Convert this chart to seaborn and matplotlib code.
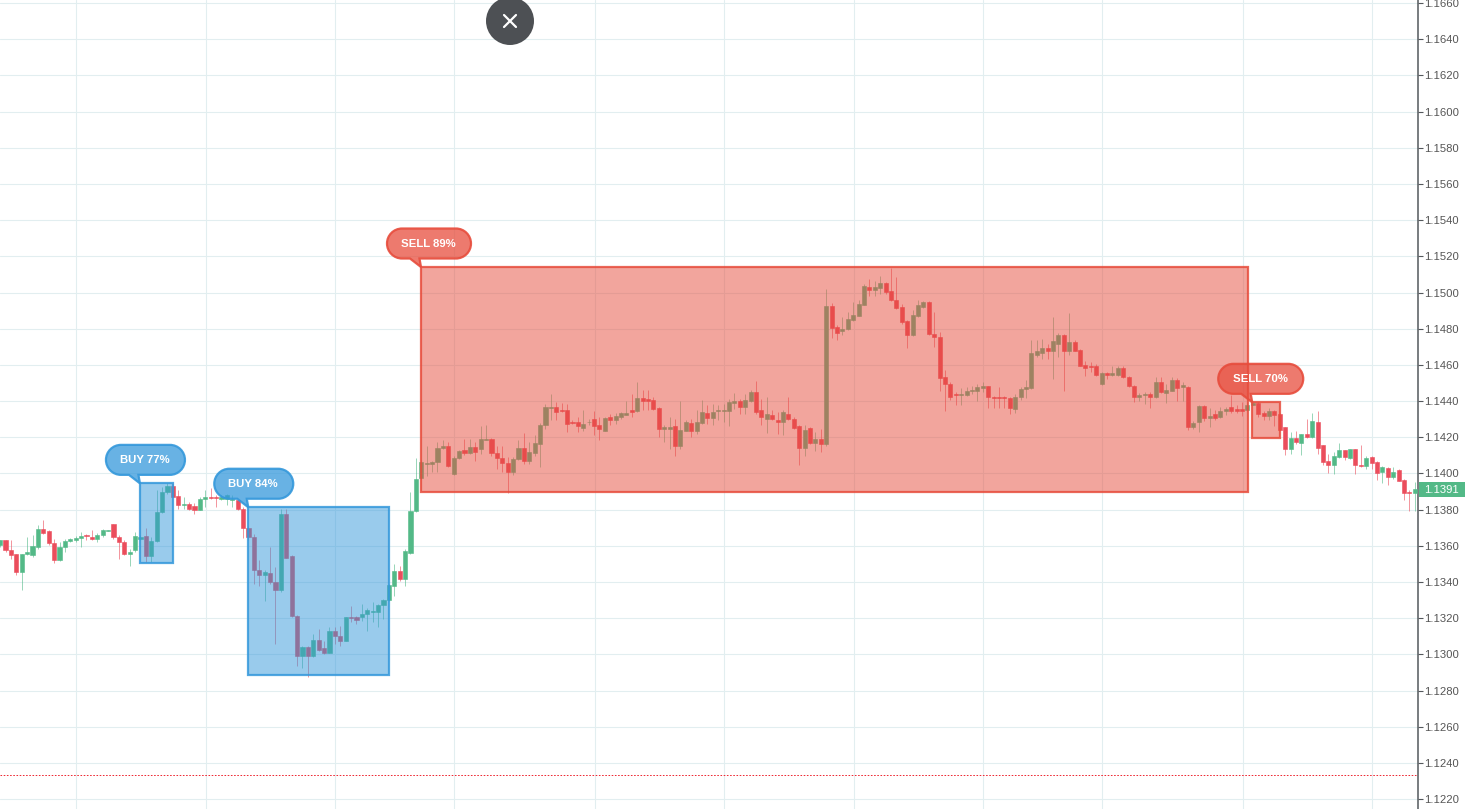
import numpy as np
import pandas as pd
import matplotlib
matplotlib.use("Agg")
import matplotlib.pyplot as plt
from matplotlib.lines import Line2D
from matplotlib.patches import Circle, PathPatch, Rectangle
from matplotlib.path import Path
from matplotlib.transforms import Affine2D, IdentityTransform
import seaborn as sns

OUTPUT_FILE = "out.png"

# candles, prices in 1/10000
direction = list(
    "GRRRGGGGRRRGGGGGRRGG" "GRRRGGGRGGGGRRGRRGGR" "RGGGRRRRRGRRGRRRGRGR"
    "RGRRGRRGGGGGGGRGGGGG" "GGGRGGRGRGGRRRRGGRGG" "GGGRRRRRGGRRGRGGGRGR"
    "RRRGGRGGRGGRGGGGGRGG" "RRGRRGRRRGRGRGRRGGGG" "GRGGRRRRRGGGRRRRRRGG"
    "GGGRRRRRGGGGGGRGGRGR" "RRRRGRGGRRRGGRGRGGRG" "RGGRGRGGRRRGGRRGRRRG"
    "RGRGRRRGGRGRRGRRGRGR" "RRG"
)
body_high = [
    11363.0, 11363.0, 11357.8, 11355.2, 11355.2, 11356.7, 11359.7, 11369.1, 11369.1, 11368.0,
    11361.7, 11359.1, 11362.6, 11363.6, 11364.5, 11365.6, 11365.8, 11365.0, 11366.1, 11368.6,
    11368.6, 11371.9, 11365.0, 11362.3, 11356.7, 11365.6, 11364.9, 11365.6, 11362.6, 11378.4,
    11389.6, 11393.0, 11393.0, 11387.4, 11383.0, 11383.0, 11381.9, 11386.1, 11387.2, 11387.2,
    11386.9, 11387.0, 11388.0, 11386.1, 11385.2, 11380.6, 11370.0, 11365.0, 11346.5, 11345.6,
    11345.1, 11340.2, 11377.4, 11377.8, 11354.1, 11321.2, 11304.2, 11304.2, 11307.9, 11307.9,
    11303.4, 11312.9, 11313.0, 11310.1, 11320.4, 11320.8, 11320.6, 11322.3, 11324.5, 11324.2,
    11327.5, 11330.1, 11338.4, 11346.2, 11346.2, 11357.3, 11379.1, 11396.7, 11406.5, 11405.6,
    11406.5, 11413.8, 11414.9, 11414.9, 11408.8, 11412.5, 11413.2, 11414.7, 11414.5, 11419.1,
    11419.3, 11419.1, 11411.4, 11408.6, 11405.8, 11408.0, 11414.1, 11414.1, 11411.9, 11416.9,
    11426.9, 11436.5, 11436.9, 11436.9, 11434.9, 11434.9, 11428.2, 11428.2, 11427.5, 11428.7,
    11429.9, 11426.5, 11430.4, 11431.0, 11431.5, 11433.4, 11433.4, 11434.9, 11441.5, 11441.7,
    11441.3, 11440.4, 11436.0, 11425.4, 11425.6, 11426.0, 11424.1, 11428.2, 11427.6, 11428.7,
    11433.7, 11433.2, 11434.1, 11434.9, 11434.9, 11439.3, 11439.8, 11439.8, 11440.4, 11444.8,
    11444.8, 11434.9, 11432.6, 11432.1, 11429.7, 11433.7, 11432.6, 11430.2, 11426.0, 11424.1,
    11424.9, 11418.8, 11419.1, 11492.4, 11492.4, 11480.7, 11479.8, 11485.2, 11487.4, 11493.5,
    11503.5, 11503.3, 11502.9, 11505.1, 11505.1, 11500.7, 11495.7, 11491.8, 11484.0, 11487.4,
    11492.9, 11494.6, 11494.6, 11477.2, 11475.2, 11453.2, 11449.6, 11444.1, 11444.1, 11445.8,
    11445.9, 11448.0, 11448.2, 11448.2, 11442.4, 11442.4, 11442.0, 11441.9, 11442.4, 11446.7,
    11447.8, 11466.3, 11467.4, 11469.4, 11469.4, 11473.3, 11476.3, 11476.3, 11472.8, 11472.9,
    11468.3, 11460.0, 11459.6, 11459.6, 11455.6, 11455.6, 11455.7, 11458.5, 11458.5, 11453.5,
    11448.3, 11443.3, 11443.9, 11443.9, 11450.6, 11450.6, 11446.1, 11451.7, 11451.7, 11448.9,
    11448.0, 11427.8, 11437.4, 11437.2, 11432.0, 11432.8, 11434.6, 11435.4, 11436.7, 11435.4,
    11435.6, 11438.1, 11439.0, 11439.0, 11433.2, 11434.4, 11434.4, 11432.6, 11425.6, 11419.6,
    11419.6, 11421.7, 11421.7, 11428.9, 11428.3, 11415.6, 11406.7, 11409.5, 11412.8, 11412.8,
    11413.4, 11413.4, 11404.8, 11408.7, 11408.9, 11406.5, 11403.4, 11403.2, 11400.6, 11401.7,
    11396.5, 11389.9, 11391.5,
]
body_low = [
    11360.2, 11357.5, 11354.7, 11345.4, 11345.4, 11355.2, 11354.7, 11359.3, 11367.1, 11361.5,
    11351.9, 11351.9, 11359.1, 11362.6, 11363.4, 11364.3, 11365.4, 11363.6, 11363.6, 11366.0,
    11368.4, 11364.9, 11362.1, 11355.4, 11355.4, 11357.5, 11363.7, 11354.3, 11354.3, 11362.6,
    11378.5, 11389.6, 11387.0, 11382.6, 11382.6, 11380.2, 11379.8, 11379.8, 11385.9, 11386.5,
    11386.5, 11386.1, 11386.1, 11385.2, 11380.2, 11369.8, 11364.7, 11346.5, 11343.6, 11343.8,
    11339.9, 11335.3, 11335.4, 11353.4, 11321.0, 11298.8, 11298.8, 11298.8, 11298.8, 11302.3,
    11300.8, 11301.0, 11309.9, 11307.5, 11307.5, 11319.9, 11319.2, 11320.4, 11322.1, 11323.2,
    11323.6, 11327.1, 11329.9, 11338.0, 11341.5, 11341.5, 11356.0, 11379.3, 11397.3, 11405.1,
    11405.3, 11406.2, 11413.9, 11404.3, 11399.5, 11408.4, 11411.4, 11411.2, 11411.7, 11413.6,
    11418.6, 11411.2, 11408.4, 11405.6, 11400.6, 11400.6, 11407.8, 11406.7, 11406.7, 11411.2,
    11416.4, 11426.5, 11436.1, 11433.9, 11434.5, 11427.3, 11427.8, 11426.0, 11424.9, 11428.2,
    11426.0, 11424.3, 11423.7, 11429.3, 11429.3, 11431.2, 11432.3, 11433.7, 11434.3, 11440.2,
    11440.0, 11435.6, 11424.3, 11424.5, 11424.7, 11415.4, 11415.4, 11423.7, 11423.2, 11423.2,
    11428.0, 11430.4, 11430.4, 11434.5, 11434.5, 11434.3, 11438.9, 11436.7, 11436.5, 11440.0,
    11433.7, 11431.0, 11429.9, 11429.9, 11428.7, 11428.7, 11429.9, 11424.9, 11413.8, 11413.8,
    11416.7, 11416.7, 11416.0, 11416.0, 11480.2, 11477.9, 11478.5, 11479.6, 11484.6, 11487.2,
    11493.1, 11501.3, 11501.3, 11502.5, 11500.3, 11495.7, 11491.3, 11483.5, 11476.3, 11476.3,
    11486.8, 11492.0, 11477.0, 11475.2, 11453.0, 11449.6, 11442.4, 11443.5, 11443.5, 11443.5,
    11445.4, 11445.4, 11447.4, 11442.0, 11441.9, 11441.7, 11441.5, 11435.9, 11435.8, 11442.0,
    11446.9, 11447.0, 11465.5, 11466.8, 11467.6, 11467.9, 11471.3, 11467.6, 11467.6, 11467.9,
    11459.6, 11458.5, 11459.1, 11454.6, 11449.6, 11454.3, 11454.3, 11454.6, 11453.2, 11448.2,
    11442.0, 11442.0, 11443.2, 11442.0, 11442.0, 11444.8, 11444.3, 11445.8, 11447.1, 11447.6,
    11425.4, 11425.9, 11428.7, 11430.4, 11430.4, 11430.7, 11431.3, 11434.3, 11434.4, 11434.4,
    11434.6, 11435.0, 11438.1, 11432.8, 11431.9, 11431.7, 11432.2, 11424.1, 11413.4, 11413.5,
    11417.2, 11416.9, 11420.0, 11420.0, 11414.1, 11406.1, 11404.8, 11404.7, 11409.1, 11409.1,
    11408.5, 11404.7, 11404.1, 11403.9, 11405.8, 11400.0, 11400.8, 11398.0, 11397.8, 11396.0,
    11389.1, 11389.1, 11389.1,
]
wick_high = [
    11363.0, 11363.4, 11363.0, 11355.6, 11355.6, 11364.9, 11365.8, 11371.3, 11374.1, 11368.6,
    11363.9, 11362.1, 11363.9, 11364.3, 11365.2, 11367.6, 11366.7, 11368.9, 11367.1, 11369.1,
    11368.8, 11372.3, 11365.8, 11363.0, 11358.4, 11367.6, 11365.8, 11370.0, 11364.9, 11390.8,
    11392.6, 11394.5, 11394.5, 11390.8, 11387.0, 11384.3, 11383.4, 11386.7, 11390.8, 11391.7,
    11388.0, 11388.0, 11388.9, 11388.0, 11386.1, 11381.5, 11370.8, 11366.7, 11351.9, 11346.4,
    11359.3, 11348.2, 11380.6, 11380.6, 11354.7, 11321.6, 11304.8, 11304.8, 11311.2, 11314.0,
    11307.5, 11315.3, 11314.9, 11315.8, 11320.8, 11326.9, 11321.4, 11327.9, 11325.6, 11328.8,
    11327.9, 11330.6, 11339.0, 11350.0, 11349.1, 11358.4, 11389.8, 11408.3, 11407.5, 11415.4,
    11407.1, 11417.3, 11418.2, 11417.3, 11409.9, 11413.0, 11418.8, 11419.1, 11417.3, 11426.0,
    11426.5, 11419.7, 11415.4, 11415.4, 11408.9, 11408.9, 11418.2, 11422.3, 11417.3, 11421.0,
    11427.8, 11438.5, 11444.1, 11439.5, 11438.9, 11438.5, 11429.3, 11431.2, 11434.9, 11430.2,
    11434.5, 11431.2, 11431.2, 11432.6, 11433.4, 11433.9, 11440.0, 11444.1, 11450.6, 11445.9,
    11445.9, 11442.2, 11436.7, 11426.5, 11431.2, 11430.2, 11439.9, 11429.3, 11430.2, 11434.9,
    11440.8, 11437.6, 11438.5, 11437.6, 11438.5, 11441.3, 11444.5, 11441.3, 11444.1, 11445.9,
    11451.1, 11441.3, 11442.2, 11434.9, 11433.9, 11434.9, 11442.2, 11431.2, 11426.5, 11426.5,
    11425.6, 11422.8, 11424.7, 11502.2, 11494.2, 11481.8, 11486.5, 11489.2, 11494.8, 11495.7,
    11504.6, 11507.7, 11506.4, 11509.0, 11505.9, 11513.8, 11508.7, 11493.9, 11484.6, 11490.2,
    11496.1, 11495.3, 11495.3, 11489.2, 11478.1, 11457.2, 11450.4, 11444.8, 11447.2, 11447.6,
    11448.5, 11449.4, 11450.4, 11448.5, 11443.0, 11447.6, 11443.0, 11442.4, 11443.9, 11448.0,
    11451.7, 11473.5, 11473.5, 11474.4, 11471.3, 11486.5, 11477.6, 11476.8, 11488.7, 11473.5,
    11468.9, 11462.4, 11461.5, 11460.6, 11455.9, 11455.9, 11459.6, 11459.6, 11459.6, 11454.1,
    11449.1, 11444.3, 11444.8, 11444.8, 11453.2, 11453.2, 11449.4, 11453.2, 11452.8, 11450.4,
    11448.5, 11429.1, 11438.0, 11438.0, 11435.9, 11435.0, 11436.5, 11436.9, 11443.3, 11437.8,
    11439.6, 11439.6, 11439.6, 11439.6, 11434.6, 11435.9, 11435.0, 11433.2, 11425.8, 11423.0,
    11423.3, 11422.0, 11430.0, 11433.2, 11434.4, 11415.9, 11411.0, 11411.9, 11417.0, 11413.2,
    11413.7, 11413.7, 11415.9, 11409.5, 11409.5, 11406.9, 11403.9, 11403.6, 11403.6, 11402.6,
    11397.1, 11390.6, 11395.2,
]
wick_low = [
    11359.3, 11356.5, 11352.8, 11343.6, 11335.3, 11354.7, 11353.8, 11358.4, 11366.7, 11360.2,
    11350.4, 11351.5, 11356.5, 11362.1, 11362.1, 11359.3, 11363.4, 11363.0, 11362.1, 11364.9,
    11368.2, 11363.9, 11352.8, 11354.7, 11349.1, 11356.5, 11363.0, 11351.0, 11351.0, 11362.1,
    11378.2, 11388.9, 11386.7, 11380.2, 11380.2, 11379.7, 11377.4, 11379.7, 11381.5, 11385.6,
    11381.5, 11385.2, 11382.4, 11381.5, 11379.7, 11364.3, 11363.0, 11339.0, 11338.0, 11329.3,
    11339.0, 11305.7, 11334.3, 11353.0, 11320.4, 11293.6, 11292.7, 11287.5, 11298.3, 11301.6,
    11300.1, 11300.5, 11305.7, 11304.7, 11307.1, 11317.7, 11316.8, 11318.6, 11313.1, 11317.7,
    11314.9, 11319.5, 11329.7, 11332.5, 11340.8, 11338.0, 11355.6, 11378.7, 11396.9, 11398.8,
    11400.6, 11400.6, 11413.6, 11403.4, 11399.3, 11408.0, 11410.4, 11410.8, 11407.1, 11410.8,
    11418.2, 11409.9, 11402.5, 11400.6, 11389.0, 11399.3, 11407.5, 11405.3, 11405.3, 11409.9,
    11403.4, 11424.7, 11429.3, 11429.3, 11433.9, 11422.8, 11427.5, 11422.8, 11423.7, 11426.5,
    11421.5, 11418.2, 11423.4, 11426.5, 11427.5, 11430.2, 11432.1, 11431.2, 11433.9, 11434.9,
    11434.9, 11434.9, 11420.0, 11417.3, 11413.6, 11409.9, 11413.6, 11423.4, 11420.4, 11421.9,
    11427.5, 11427.5, 11426.5, 11429.3, 11428.4, 11426.0, 11435.8, 11433.0, 11433.0, 11439.5,
    11433.0, 11426.5, 11422.3, 11429.3, 11421.9, 11421.0, 11429.3, 11424.7, 11404.9, 11409.9,
    11416.4, 11412.6, 11411.7, 11415.0, 11475.0, 11473.5, 11476.3, 11479.4, 11484.2, 11486.8,
    11492.9, 11497.9, 11497.9, 11499.4, 11499.4, 11495.3, 11490.9, 11482.4, 11469.4, 11475.9,
    11486.4, 11491.6, 11476.5, 11469.8, 11445.8, 11434.3, 11440.6, 11438.0, 11438.0, 11443.0,
    11443.9, 11440.2, 11444.8, 11435.9, 11435.9, 11435.9, 11435.9, 11432.8, 11433.2, 11440.6,
    11441.7, 11446.7, 11464.2, 11463.3, 11463.3, 11452.2, 11464.2, 11445.8, 11465.7, 11467.6,
    11459.3, 11454.1, 11455.9, 11454.1, 11449.1, 11452.2, 11453.7, 11454.1, 11452.8, 11447.6,
    11439.3, 11440.2, 11438.4, 11436.1, 11441.7, 11444.3, 11438.7, 11445.4, 11440.2, 11440.2,
    11423.9, 11424.5, 11423.0, 11429.1, 11425.8, 11429.8, 11430.7, 11432.2, 11433.2, 11433.2,
    11431.7, 11434.6, 11437.8, 11431.3, 11429.5, 11429.5, 11426.1, 11423.9, 11410.0, 11411.0,
    11416.1, 11410.0, 11419.6, 11419.8, 11410.6, 11404.5, 11400.2, 11399.9, 11408.7, 11407.3,
    11408.2, 11399.9, 11403.6, 11402.6, 11402.6, 11396.2, 11394.7, 11393.4, 11397.1, 11395.6,
    11385.1, 11379.5, 11379.5,
]

# signal boxes: label, first bar, last bar, price top, price bottom
signal_labels = ["BUY 77%", "BUY 84%", "SELL 89%", "SELL 70%"]
signal_left = [25.9, 45.96, 77.95, 231.9]
signal_right = [31.97, 71.96, 231.05, 237.0]
signal_top = [1.13945, 1.13813, 1.15141, 1.14393]
signal_bottom = [1.13503, 1.12884, 1.13897, 1.14194]
signal_colors = ["#3498db", "#3498db", "#e74c3c", "#e74c3c"]
signal_width = [79, 79, 84, 85]

price_ticks = [1.1220 + 0.002 * n for n in range(23)]
time_grid = [14.1, 38.12, 62.1, 84.1, 110.1, 134.1, 158.12, 182.1, 204.1, 230.1, 254.1]
alert_price = 1.12333
last_price = 1.1391

GREEN = "#53b987"
RED = "#eb4d5c"
GRID = "#e2eef0"
AXIS = "#54585c"
KAPPA = 0.5523


def add_callout(ax, x, y, label, color, width):
    # speech bubble with its tail on the top left corner of a box, sizes in pixels
    ox, oy = ax.transData.transform((x, y))
    left, right, low, high = -34, width - 34, 8.5, 38.5
    r = 15
    k = r * (1 - KAPPA)
    verts = [
        (0, 0), (-1.5, low), (right - r, low),
        (right - k, low), (right, low + k), (right, low + r),
        (right, high - k), (right - k, high), (right - r, high),
        (left + r, high),
        (left + k, high), (left, high - k), (left, low + r),
        (left, low + k), (left + k, low), (left + r, low),
        (-11, low), (0, 0),
    ]
    codes = [
        Path.MOVETO, Path.LINETO, Path.LINETO,
        Path.CURVE4, Path.CURVE4, Path.CURVE4,
        Path.CURVE4, Path.CURVE4, Path.CURVE4,
        Path.LINETO,
        Path.CURVE4, Path.CURVE4, Path.CURVE4,
        Path.CURVE4, Path.CURVE4, Path.CURVE4,
        Path.LINETO, Path.CLOSEPOLY,
    ]
    tr = Affine2D().translate(ox, oy)
    ax.add_patch(PathPatch(Path(verts, codes), facecolor=matplotlib.colors.to_rgba(color, 0.74),
                           edgecolor=matplotlib.colors.to_rgba(color, 0.9), lw=1.6,
                           transform=tr, clip_on=False, zorder=6))
    ax.text((left + right) / 2 - 0.5, high - 15, label, color="white", fontsize=8.2, fontweight="bold",
            ha="center", va="center", transform=tr, zorder=7, clip_on=False)


def plot_chart():
    sns.set_theme(style="whitegrid", rc={"grid.color": GRID, "grid.linewidth": 0.8})
    plt.rcParams["font.family"] = ["Liberation Sans", "DejaVu Sans"]

    fig = plt.figure(figsize=(14.65, 8.09), dpi=100, facecolor="white")
    ax = fig.add_axes([0, 0, 1418 / 1465, 1])

    df = pd.DataFrame({"bar": np.arange(len(direction)), "direction": direction,
                       "top": np.array(body_high) / 1e4, "bot": np.array(body_low) / 1e4,
                       "high": np.array(wick_high) / 1e4, "low": np.array(wick_low) / 1e4})
    df["height"] = df["top"] - df["bot"]

    for code, color in (("G", GREEN), ("R", RED)):
        part = df[df["direction"] == code]
        ax.vlines(part["bar"], part["low"], part["high"], color=color, lw=0.7, alpha=0.6, zorder=2)
        sns.barplot(x=part["bar"].to_numpy(), y=part["height"].to_numpy(), bottom=part["bot"].to_numpy(),
                    native_scale=True, color=color, saturation=1, width=0.76, errorbar=None,
                    edgecolor=color, linewidth=0.4, zorder=3, ax=ax)

    ax.set_xlim(-0.02, 262.6)
    ax.set_ylim(1.12145, 1.16617)
    ax.set_xlabel("")
    ax.set_ylabel("")

    ax.set_xticks(time_grid)
    ax.set_yticks(price_ticks)
    ax.set_yticklabels([f"{p:.4f}" for p in price_ticks])
    ax.set_axisbelow(True)
    ax.grid(True)
    ax.tick_params(axis="x", length=0, labelbottom=False)
    ax.yaxis.tick_right()
    ax.tick_params(axis="y", length=3.5, width=0.8, color=AXIS, pad=1.2, labelsize=8.1, labelcolor="#555555")
    for name in ("top", "left", "bottom"):
        ax.spines[name].set_visible(False)
    ax.spines["right"].set_color(AXIS)
    ax.spines["right"].set_linewidth(1.1)

    ax.axhline(alert_price, color="#ee2b36", lw=0.72, ls=(0, (1.6, 1.6)), zorder=2)

    for left, right, top, bottom, color in zip(signal_left, signal_right, signal_top, signal_bottom, signal_colors):
        ax.add_patch(Rectangle((left, bottom), right - left, top - bottom, zorder=4,
                               facecolor=matplotlib.colors.to_rgba(color, 0.5),
                               edgecolor=matplotlib.colors.to_rgba(color, 0.85), lw=1.6))

    for label, left, top, color, width in zip(signal_labels, signal_left, signal_top, signal_colors, signal_width):
        add_callout(ax, left, top, label, color, width)

    # last price tag on the axis
    ax.add_patch(Rectangle((1.0005, last_price - 0.00043), 46 / 1418, 0.00086, transform=ax.get_yaxis_transform(),
                           facecolor=GREEN, edgecolor="none", clip_on=False, zorder=5))
    ax.text(1.0166, last_price, f"{last_price:.4f}", color="white", fontsize=8.1, ha="center", va="center",
            transform=ax.get_yaxis_transform(), clip_on=False, zorder=6)

    # close button of the page, in pixels
    fig.add_artist(Circle((510, 809 - 21), 24, transform=IdentityTransform(), facecolor="#4d5054", edgecolor="none"))
    for y0, y1 in ((809 - 15, 809 - 27), (809 - 27, 809 - 15)):
        fig.add_artist(Line2D([504, 516], [y0, y1], transform=IdentityTransform(), color="white", lw=1.6))

    fig.savefig(OUTPUT_FILE, dpi=100)
    plt.close(fig)


if __name__ == "__main__":
    plot_chart()
